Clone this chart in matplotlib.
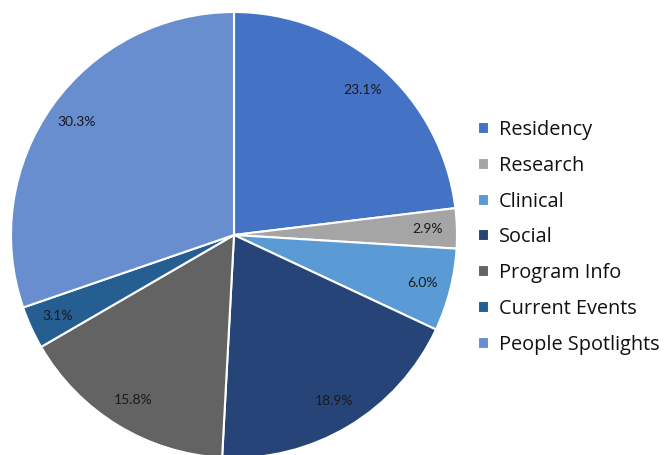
import matplotlib.pyplot as plt

plt.rcParams['font.family'] = ['Lato', 'DejaVu Sans']

categories = ['Residency', 'Research', 'Clinical', 'Social', 'Program Info',
              'Current Events', 'People Spotlights']
shares = [23.1, 2.9, 6.0, 18.9, 15.8, 3.1, 30.3]
colors = ['#4472C4', '#A5A5A5', '#5B9BD5', '#264478', '#636363', '#255E91', '#698ED0']

fig = plt.figure(figsize=(6.64, 4.55), dpi=100)
ax = fig.add_axes([11 / 664, -3 / 455, 446 / 664, 446 / 455])

wedges, texts, autotexts = ax.pie(
    shares, colors=colors, startangle=90, counterclock=False,
    autopct='%1.1f%%', pctdistance=0.87, radius=1,
    wedgeprops=dict(edgecolor='white', linewidth=1.5),
    textprops=dict(fontsize=10, color='#1a1a1a'))
ax.set_xlim(-1, 1)
ax.set_ylim(-1, 1)
ax.set_aspect('equal')
ax.axis('off')

leg = fig.legend(wedges, categories, loc='center left',
                 bbox_to_anchor=(478 / 664, 1 - 237.5 / 455),
                 frameon=False, prop=dict(family='Open Sans', size=14.3),
                 handlelength=0.55, handleheight=0.55, handletextpad=0.5,
                 labelspacing=0.79, borderpad=0, borderaxespad=0)
for t in leg.get_texts():
    t.set_color('#111111')

fig.savefig('out.png', dpi=100)
